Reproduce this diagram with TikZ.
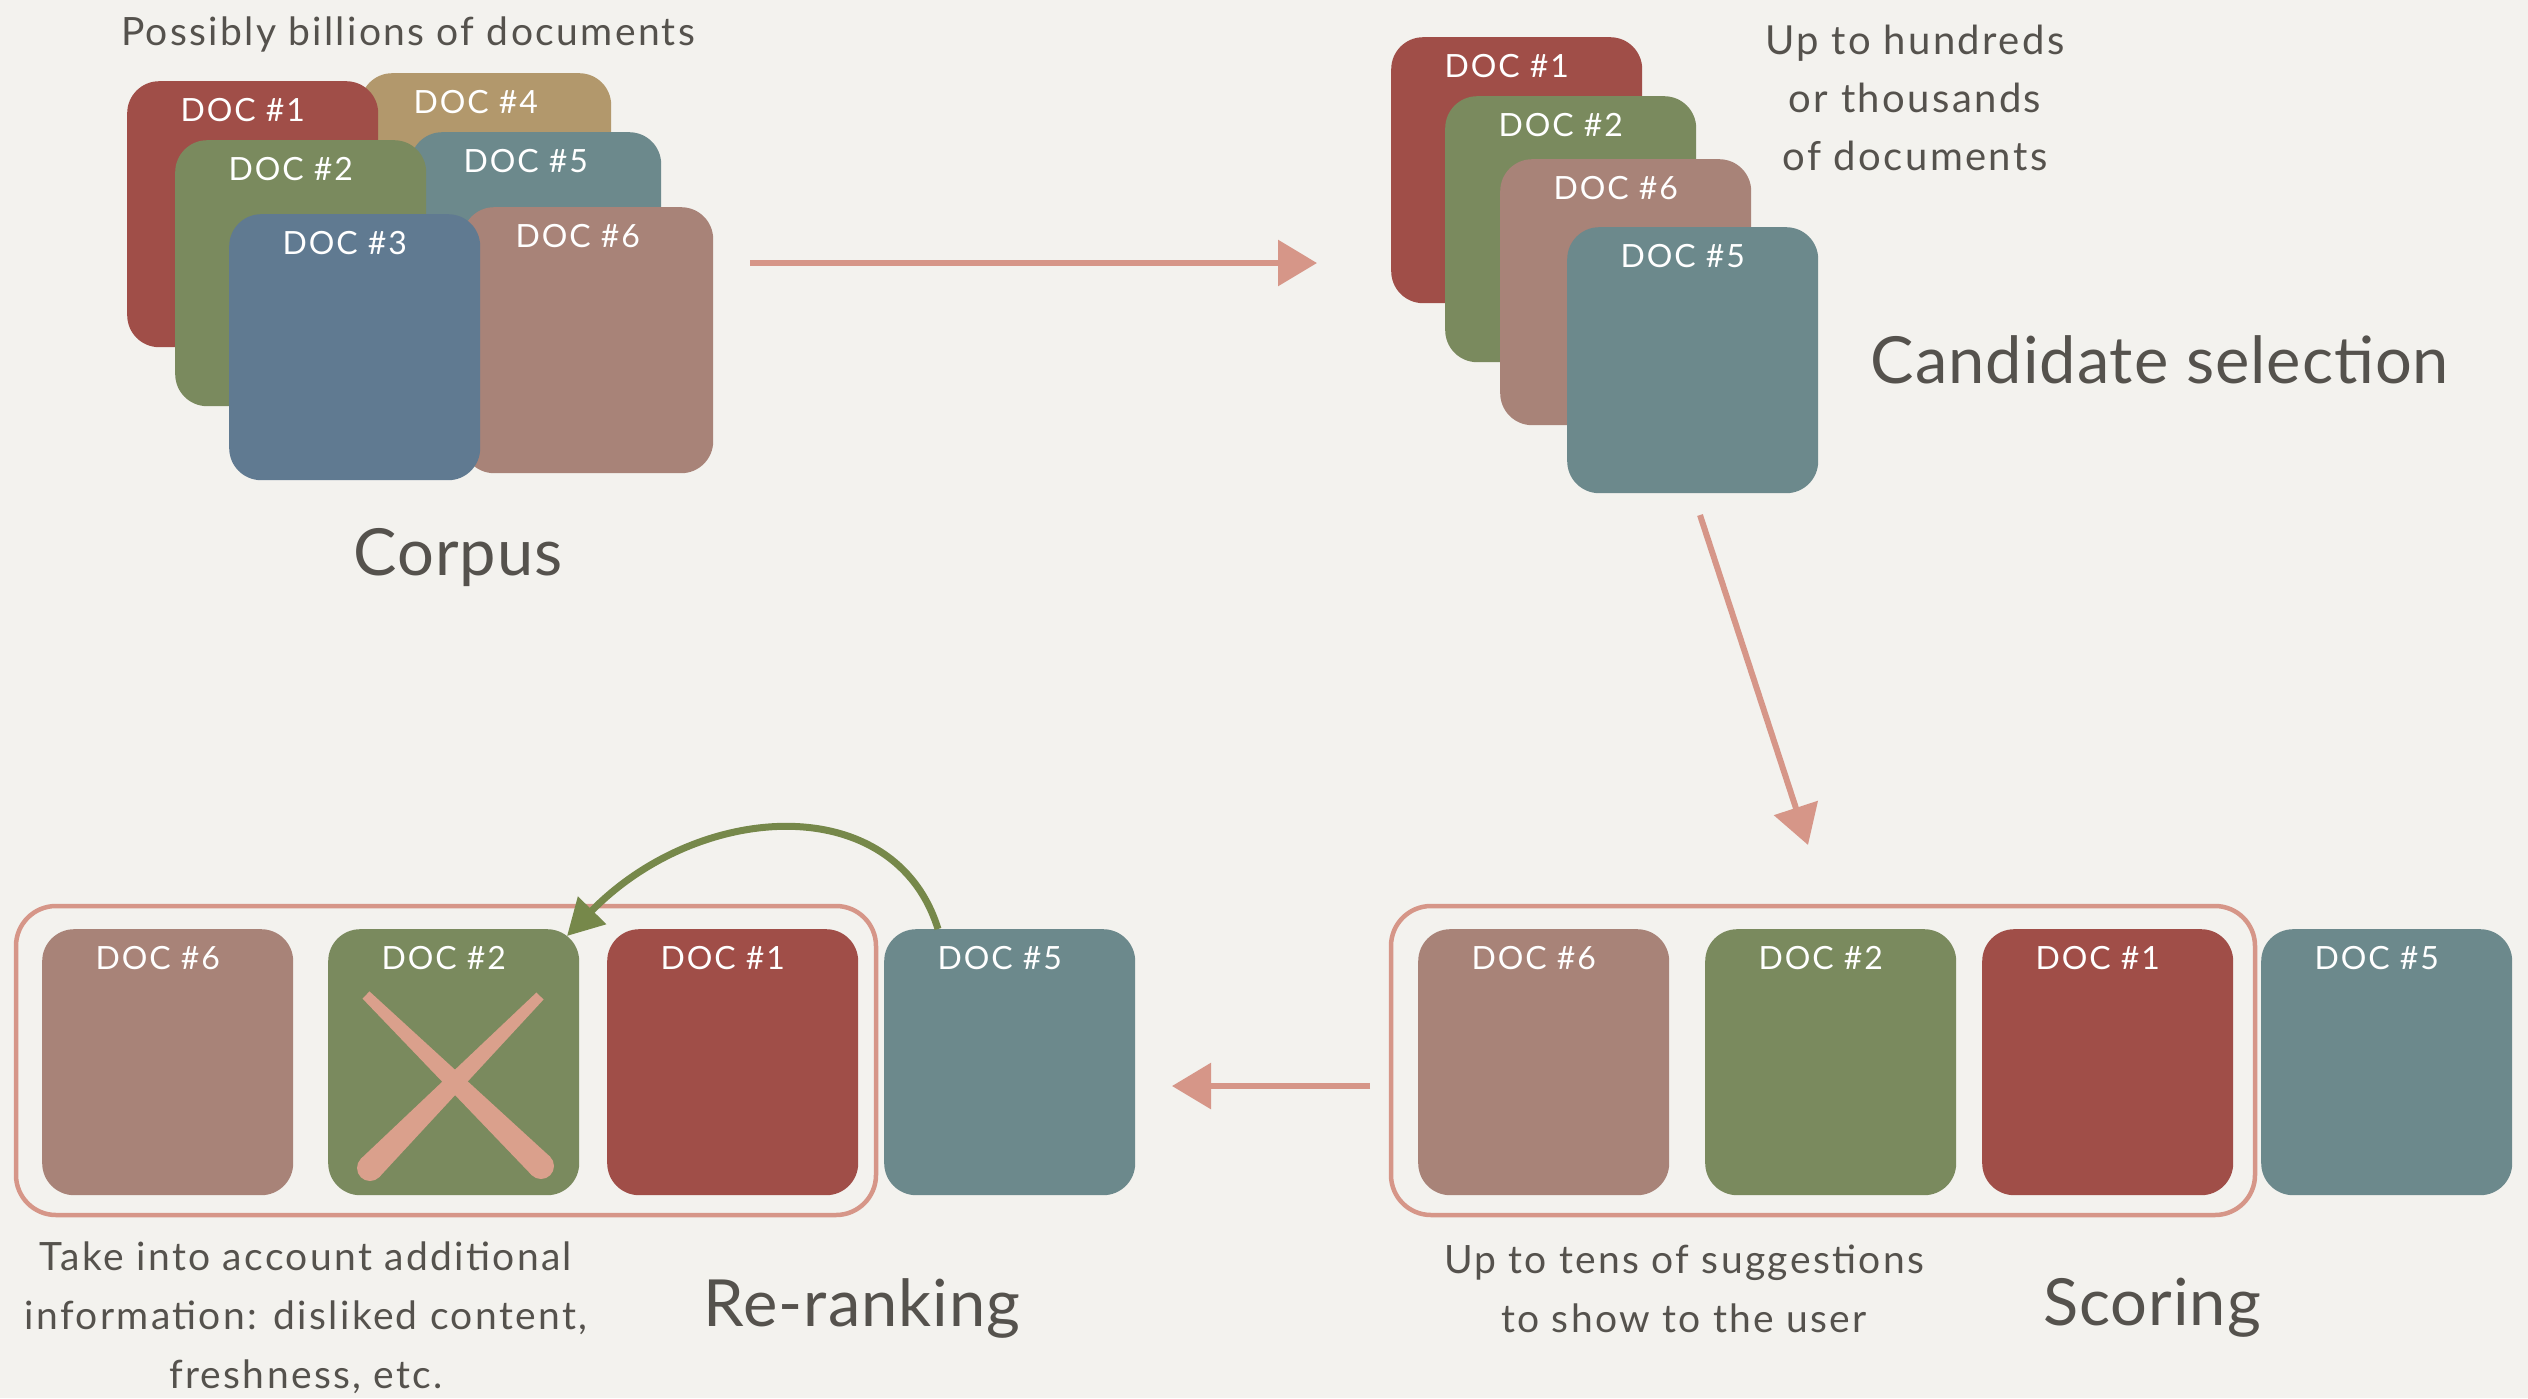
\documentclass[tikz,border=0pt]{standalone}
\usepackage{fontspec}
\setmainfont{Lato}
\newfontfamily\smallf[LetterSpace=6]{Lato}
\newfontfamily\titlef[LetterSpace=1.5]{Lato}
\usetikzlibrary{calc,arrows.meta}
\definecolor{bg}{RGB}{243,242,238}
\definecolor{dred}{RGB}{160,78,72}
\definecolor{dtan}{RGB}{178,152,108}
\definecolor{dgreen}{RGB}{122,138,94}
\definecolor{dteal}{RGB}{108,137,140}
\definecolor{dblue}{RGB}{96,122,145}
\definecolor{drose}{RGB}{168,131,120}
\definecolor{salmon}{RGB}{214,150,136}
\definecolor{xsalmon}{RGB}{218,160,140}
\definecolor{olive}{RGB}{118,136,74}
\definecolor{txt}{RGB}{85,82,77}
\tikzset{
  docbox/.style={fill=#1, draw=none, rounded corners=32pt, minimum width=251pt,
    minimum height=266pt, inner sep=0pt, anchor=north west},
  doclbl/.style={text=white, inner sep=0pt, font=\smallf\fontsize{32}{38}\selectfont},
  bigtitle/.style={text=txt, inner sep=0pt, font=\titlef\fontsize{65}{72}\selectfont},
  note/.style={text=txt, inner sep=0pt, align=center, font=\smallf\fontsize{39}{59}\selectfont},
  sarrow/.style={draw=salmon, line width=6pt, -{Triangle[length=39pt,width=45pt]}},
  garrow/.style={draw=olive, line width=7pt, -{Triangle[length=36pt,width=38pt]}},
  group/.style={draw=salmon, line width=4.5pt, rounded corners=40pt},
}
\newcommand\mydoc[6]{%
  \node[docbox=#2] (#1) at (#3,#4) {};
  \node[doclbl] (#1l) at ($(#1.north)+(-10,29)$) {#6};}
\begin{document}
\begin{tikzpicture}[x=1pt,y=-1pt]
\fill[bg] (0,0) rectangle (2528,1398);
\useasboundingbox (0,0) rectangle (2528,1398);

% ---- Corpus ----
\node[text=txt, inner sep=0pt, font=\smallf\fontsize{39}{44}\selectfont] (t1) at (408,34) {Possibly billions of documents};
\mydoc{c4}{dtan}{360}{73}{}{DOC \#4}
\mydoc{c1}{dred}{127}{81}{}{DOC \#1}
\mydoc{c5}{dteal}{410}{132}{}{DOC \#5}
\mydoc{c2}{dgreen}{175}{140}{}{DOC \#2}
\mydoc{c6}{drose}{462}{207}{}{DOC \#6}
\mydoc{c3}{dblue}{229}{214}{}{DOC \#3}
\node[bigtitle] (corpus) at (458,558) {Corpus};

% ---- Candidate selection ----
\mydoc{s1}{dred}{1391}{37}{}{DOC \#1}
\mydoc{s2}{dgreen}{1445}{96}{}{DOC \#2}
\mydoc{s6}{drose}{1500}{159}{}{DOC \#6}
\mydoc{s5}{dteal}{1567}{227}{}{DOC \#5}
\node[note, font=\smallf\fontsize{40}{58}\selectfont] (t2) at (1915,98) {Up to hundreds\\or thousands\\of documents};
\node[bigtitle] (cand) at (2160,360) {Candidate selection};

% ---- Scoring ----
\draw[group] (1391,906) rectangle (2255,1215);
\mydoc{p6}{drose}{1418}{929}{}{DOC \#6}
\mydoc{p2}{dgreen}{1705}{929}{}{DOC \#2}
\mydoc{p1}{dred}{1982}{929}{}{DOC \#1}
\mydoc{p5}{dteal}{2261}{929}{}{DOC \#5}
\node[note] (t3) at (1684,1289) {Up to tens of suggestions\\to show to the user};
\node[bigtitle] (scoring) at (2152,1308) {Scoring};

% ---- Re-ranking ----
\draw[group] (16,906) rectangle (876,1215);
\mydoc{r6}{drose}{42}{929}{}{DOC \#6}
\mydoc{r2}{dgreen}{328}{929}{}{DOC \#2}
\mydoc{r1}{dred}{607}{929}{}{DOC \#1}
\mydoc{r5}{dteal}{884}{929}{}{DOC \#5}
\node[note] (t4) at (306,1318) {Take into account additional\\information: disliked content,\\freshness, etc.};
\node[bigtitle] (rerank) at (862,1308) {Re-ranking};

% ---- X mark ----
\coordinate (xa1) at (366,995);
\coordinate (xb1) at (541,1166);
\coordinate (xa2) at (540,996);
\coordinate (xb2) at (370,1168);
\fill[xsalmon] ($(xa1)!5pt!90:(xb1)$) -- ($(xb1)!13pt!-90:(xa1)$) -- ($(xb1)!13pt!90:(xa1)$) -- ($(xa1)!5pt!-90:(xb1)$) -- cycle;
\fill[xsalmon] (xb1) circle (13pt);
\fill[xsalmon] ($(xa2)!5pt!90:(xb2)$) -- ($(xb2)!13pt!-90:(xa2)$) -- ($(xb2)!13pt!90:(xa2)$) -- ($(xa2)!5pt!-90:(xb2)$) -- cycle;
\fill[xsalmon] (xb2) circle (13pt);

% ---- arrows ----
\coordinate (a1s) at (750,263);
\coordinate (a1e) at (1317,263);
\draw[sarrow] (a1s) -- (a1e);
\coordinate (a2s) at (1700,515);
\coordinate (a2e) at (1808,845);
\draw[sarrow] (a2s) -- (a2e);
\coordinate (a3s) at (1370,1086);
\coordinate (a3e) at (1172,1086);
\draw[sarrow] (a3s) -- (a3e);
\coordinate (gs) at (938,929);
\coordinate (ge) at (567,936);
\draw[garrow] (gs) .. controls (895,790) and (700,800) .. (ge);
\end{tikzpicture}
\end{document}
